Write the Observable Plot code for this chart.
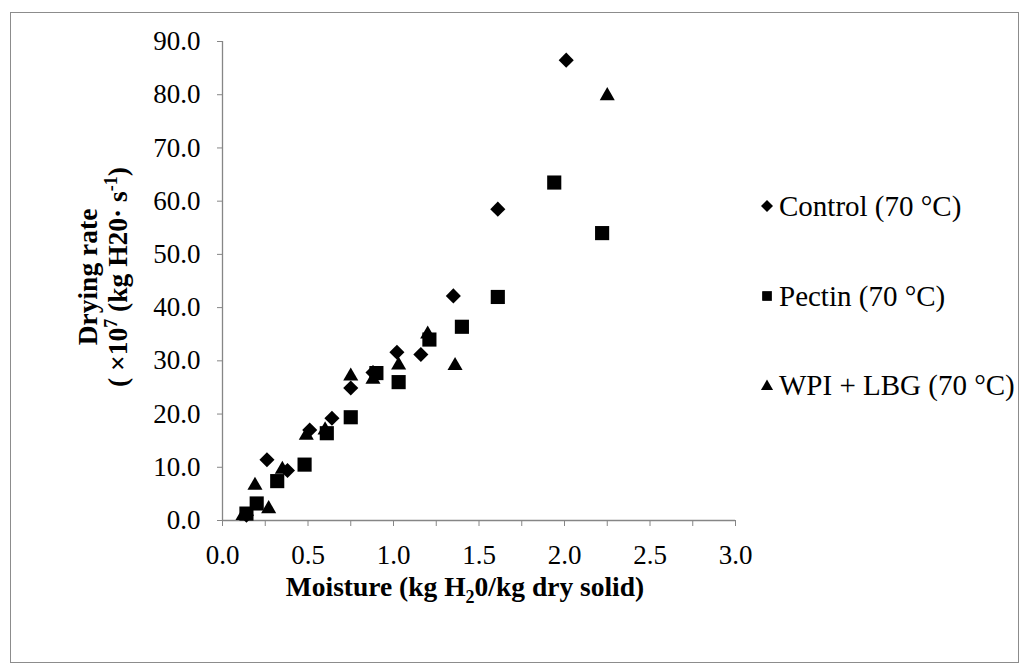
<!DOCTYPE html>
<html>
<head>
<meta charset="utf-8">
<script src="https://cdn.jsdelivr.net/npm/d3@7"></script>
<script src="https://cdn.jsdelivr.net/npm/@observablehq/plot@0.6"></script>
<style>
  html, body { margin: 0; padding: 0; background: #fff; }
  #wrap { position: relative; width: 1026px; height: 670px; overflow: hidden; font-family: "Liberation Serif", "Times New Roman", serif; color: #000; }
  #frame { position: absolute; left: 10px; top: 12px; width: 1009px; height: 651px; border: 1px solid #8c8c8c; box-sizing: border-box; }
  #chart { position: absolute; left: 0; top: 0; }
  .ttl { position: absolute; font-weight: bold; font-size: 27.5px; white-space: nowrap; }
  .ttl sub, .ttl sup { font-size: 18px; line-height: 0; }
  #ytitle { left: 103px; top: 277px; transform: translate(-50%, -50%) rotate(-90deg); text-align: center; line-height: 30px; }
  #xtitle { left: 465px; top: 573px; line-height: 27px; transform: translateX(-50%); }
  .leg { position: absolute; left: 758px; font-size: 29px; white-space: nowrap; display: flex; align-items: center; }
  .leg svg { margin-right: 3px; }
</style>
</head>
<body>
<div id="wrap">
  <div id="frame"></div>
  <div id="chart"></div>
  <div class="ttl" id="ytitle">Drying rate<br>( ×10<sup>7</sup> (kg H20· s<sup>-1</sup>)</div>
  <div class="ttl" id="xtitle">Moisture (kg H<sub>2</sub>0/kg dry solid)</div>
  <div id="legend"></div>
</div>
<script>
// Series names
const seriesNames = ["Control (70 °C)", "Pectin (70 °C)", "WPI + LBG (70 °C)"];

// Control (70 °C)
const controlMoisture = [0.14, 0.26, 0.38, 0.51, 0.64, 0.75, 0.88, 1.02, 1.16, 1.35, 1.61, 2.01];
const controlRate     = [1.0, 11.4, 9.4, 17.0, 19.2, 24.9, 27.8, 31.6, 31.2, 42.2, 58.5, 86.5];

// Pectin (70 °C)
const pectinMoisture = [0.14, 0.20, 0.32, 0.48, 0.61, 0.75, 0.90, 1.03, 1.21, 1.40, 1.61, 1.94, 2.22];
const pectinRate     = [1.3, 3.2, 7.4, 10.5, 16.4, 19.4, 27.7, 26.0, 34.0, 36.4, 42.0, 63.5, 54.0];

// WPI + LBG (70 °C)
const wpiMoisture = [0.12, 0.19, 0.27, 0.35, 0.49, 0.60, 0.75, 0.88, 1.03, 1.20, 1.36, 2.25];
const wpiRate     = [0.9, 6.6, 2.2, 9.6, 16.0, 17.0, 27.1, 26.5, 29.2, 35.0, 29.1, 79.8];

// Axis ticks
const xTicks = [0, 0.25, 0.5, 0.75, 1, 1.25, 1.5, 1.75, 2, 2.25, 2.5, 2.75, 3];
const xLabelTicks = [0, 0.5, 1, 1.5, 2, 2.5, 3];
const yTicks = [0, 10, 20, 30, 40, 50, 60, 70, 80, 90];

const symbols = ["diamond2", "square2", "triangle2"];
const radii = [6.8, 9, 7.2];

const rows = [];
[[controlMoisture, controlRate], [pectinMoisture, pectinRate], [wpiMoisture, wpiRate]].forEach(([xs, ys], i) => {
  xs.forEach((x, j) => rows.push({series: seriesNames[i], moisture: x, rate: ys[j], r: radii[i]}));
});

const axisGray = "#868686";
const serif = "'Liberation Serif', 'Times New Roman', serif";

const chart = Plot.plot({
  width: 1026,
  height: 670,
  marginLeft: 222,
  marginRight: 291,
  marginTop: 41,
  marginBottom: 150,
  style: {fontFamily: serif, fontSize: "27px", background: "transparent", color: "#000"},
  x: {domain: [0, 3]},
  y: {domain: [0, 90]},
  r: {type: "identity"},
  symbol: {domain: seriesNames, range: symbols},
  marks: [
    Plot.axisX({ticks: xTicks, tickSize: 6, tickFormat: () => "", stroke: axisGray, label: null}),
    Plot.axisX({ticks: xLabelTicks, tickSize: 0, tickPadding: 24, tickFormat: d => d.toFixed(1), fill: "#000", label: null}),
    Plot.axisY({ticks: yTicks, tickSize: 5, tickPadding: 17, tickFormat: d => d.toFixed(1), stroke: axisGray, fill: "#000", label: null}),
    Plot.ruleY([0], {stroke: axisGray, strokeWidth: 1.3}),
    Plot.ruleX([0], {stroke: axisGray, strokeWidth: 1.3}),
    Plot.dot(rows, {x: "moisture", y: "rate", symbol: "series", r: "r", fill: "#000", stroke: "none"})
  ]
});
document.getElementById("chart").appendChild(chart);

// Legend
const legendTops = [206, 296, 385];
const legend = document.getElementById("legend");
const symMap = {diamond2: d3.symbolDiamond2, square2: d3.symbolSquare2, triangle2: d3.symbolTriangle2};
seriesNames.forEach((name, i) => {
  const div = document.createElement("div");
  div.className = "leg";
  div.style.top = (legendTops[i] - 17) + "px";
  div.style.height = "34px";
  const svg = d3.create("svg").attr("width", 18).attr("height", 18).attr("viewBox", "-9 -9 18 18");
  const rr = [5.4, 6.2, 5.8][i];
  svg.append("path").attr("d", d3.symbol(symMap[symbols[i]], Math.PI * rr * rr)()).attr("fill", "#000")
    .attr("transform", i === 2 ? "translate(0,1.5)" : null);
  div.appendChild(svg.node());
  const span = document.createElement("span");
  span.textContent = name;
  div.appendChild(span);
  legend.appendChild(div);
});
</script>
</body>
</html>
